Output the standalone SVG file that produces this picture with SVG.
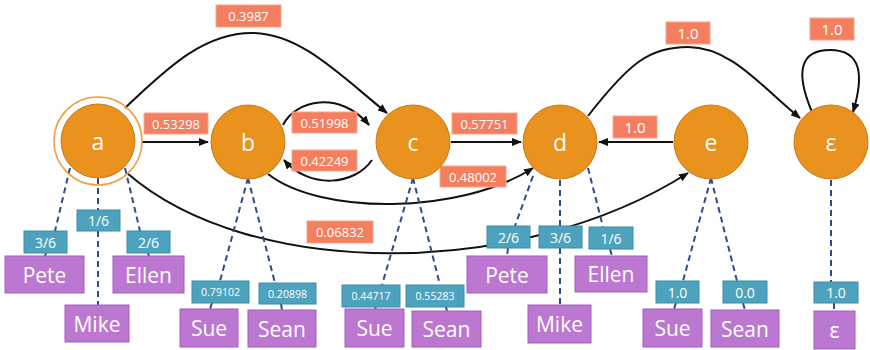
<svg xmlns="http://www.w3.org/2000/svg" width="870" height="350" viewBox="0 0 870 350">
<style>
.node{fill:#EA921E;stroke:#C9791A;stroke-width:1}
.nt{fill:#fff;font-family:"Open Sans",sans-serif;font-size:23px;text-anchor:middle;dominant-baseline:central}
.edge{fill:none;stroke:#111;stroke-width:2}
.dash{fill:none;stroke:#2F4B8C;stroke-width:2;stroke-dasharray:6 4}
.el{fill:#F47E60;stroke:#F9A58E;stroke-width:1}
.elt{fill:#fff;font-family:"Open Sans",sans-serif;font-size:13px;text-anchor:middle;dominant-baseline:central}
.tag{fill:#4DA3BE;stroke:#3A8CA6;stroke-width:1}
.tt{fill:#fff;font-family:"Open Sans",sans-serif;font-size:14px;text-anchor:middle;dominant-baseline:central}
.ts{font-size:10.5px}
.box{fill:#BC78D1;stroke:#A25EBA;stroke-width:1}
.bt{fill:#fff;font-family:"Open Sans",sans-serif;font-size:21px;text-anchor:middle;dominant-baseline:central}
</style>
<defs>
<marker id="arr" markerWidth="10" markerHeight="8" refX="9" refY="4" orient="auto" markerUnits="userSpaceOnUse">
<path d="M0,0 L10,4 L0,8 Z" fill="#111"/>
</marker>
</defs>
<g id="connectors">
<path class="edge" d="M142,142 L208,142" marker-end="url(#arr)"/>
<path class="edge" d="M125,108 C170,65 205,33 252,33 C300,33 340,75 387,113" marker-end="url(#arr)"/>
<path class="edge" d="M283,125 C295,100 340,90 369,125" marker-end="url(#arr)"/>
<path class="edge" d="M372,160 C355,185 310,190 284,160" marker-end="url(#arr)"/>
<path class="edge" d="M451,142 L521,142" marker-end="url(#arr)"/>
<path class="edge" d="M268,174 C320,215 460,215 533,168" marker-end="url(#arr)"/>
<path class="edge" d="M127,173 C250,280 520,280 688,173" marker-end="url(#arr)"/>
<path class="edge" d="M673,142 L599,142" marker-end="url(#arr)"/>
<path class="edge" d="M588,116 C630,62 650,47 688,47 C730,47 760,85 800,118" marker-end="url(#arr)"/>
<path class="edge" d="M812,112 C795,72 800,50 830,50 C862,50 864,76 853,112" marker-end="url(#arr)"/>
<path class="dash" d="M70,168 L55,231 M46,253 L45,256"/>
<path class="dash" d="M98,178 L98,210 M98,231 L98,305"/>
<path class="dash" d="M125,168 L140,231 M148,253 L149,256"/>
<path class="dash" d="M248,178 L220,281 M212,303 L210,309"/>
<path class="dash" d="M248,178 L275,283 M281,304 L282,310"/>
<path class="dash" d="M413,178 L382,285 M376,307 L375,309"/>
<path class="dash" d="M413,178 L440,285 M446,307 L447,311"/>
<path class="dash" d="M533,176 L515,226 M508,248 L507,256"/>
<path class="dash" d="M560,180 L560,226 M560,248 L560,305"/>
<path class="dash" d="M588,168 L603,227 M610,249 L612,256"/>
<path class="dash" d="M711,178 L683,281 M676,303 L674,309"/>
<path class="dash" d="M711,178 L737,281 M743,303 L745,310"/>
<path class="dash" d="M831,180 L831,282 M834,303 L834,311"/>
</g>
<g id="edge-labels">
<rect class="el" x="216" y="5" width="65" height="22"/><text class="elt" x="248.5" y="16">0.3987</text>
<rect class="el" x="144" y="113" width="64" height="21"/><text class="elt" x="176" y="123.5">0.53298</text>
<rect class="el" x="292" y="112" width="65" height="21"/><text class="elt" x="324.5" y="122.5">0.51998</text>
<rect class="el" x="292" y="150" width="65" height="21"/><text class="elt" x="324.5" y="160.5">0.42249</text>
<rect class="el" x="452" y="113" width="65" height="21"/><text class="elt" x="484.5" y="123.5">0.57751</text>
<rect class="el" x="440" y="166" width="66" height="21"/><text class="elt" x="473" y="176.5">0.48002</text>
<rect class="el" x="307" y="221" width="66" height="22"/><text class="elt" x="340" y="232">0.06832</text>
<rect class="el" x="613" y="116" width="44" height="22"/><text class="elt" x="635" y="127" style="font-size:15px">1.0</text>
<rect class="el" x="666" y="22" width="44" height="22"/><text class="elt" x="688" y="33" style="font-size:15px">1.0</text>
<rect class="el" x="810" y="18" width="44" height="22"/><text class="elt" x="832" y="29" style="font-size:15px">1.0</text>
</g>
<g id="node-a">
<circle cx="98" cy="141" r="44" fill="none" stroke="#F0A040" stroke-width="1.5"/>
<circle class="node" cx="98" cy="141" r="37"/><text class="nt" x="98" y="141">a</text>
</g>
<g id="node-b"><circle class="node" cx="248" cy="142" r="37"/><text class="nt" x="248" y="142">b</text></g>
<g id="node-c"><circle class="node" cx="413" cy="142" r="37"/><text class="nt" x="413" y="142">c</text></g>
<g id="node-d"><circle class="node" cx="560" cy="142" r="37"/><text class="nt" x="560" y="142">d</text></g>
<g id="node-e"><circle class="node" cx="711" cy="142" r="37"/><text class="nt" x="711" y="142">e</text></g>
<g id="node-eps"><circle class="node" cx="831" cy="142" r="37"/><text class="nt" x="831" y="142">ε</text></g>
<g id="emit-a">
<rect class="tag" x="24" y="231" width="43" height="22"/><text class="tt" x="45.5" y="242">3/6</text>
<rect class="tag" x="77" y="210" width="43" height="21"/><text class="tt" x="98.5" y="220.5">1/6</text>
<rect class="tag" x="127" y="231" width="43" height="22"/><text class="tt" x="148.5" y="242">2/6</text>
<rect class="box" x="5" y="256" width="79" height="37"/><text class="bt" x="44.5" y="274.5">Pete</text>
<rect class="box" x="65" y="305" width="64" height="37"/><text class="bt" x="97" y="323.5">Mike</text>
<rect class="box" x="113" y="256" width="71" height="37"/><text class="bt" x="148.5" y="274.5">Ellen</text>
</g>
<g id="emit-b">
<rect class="tag" x="192" y="281" width="57" height="22"/><text class="tt ts" x="220.5" y="292">0.79102</text>
<rect class="tag" x="259" y="283" width="57" height="21"/><text class="tt ts" x="287.5" y="293.5">0.20898</text>
<rect class="box" x="180" y="309" width="58" height="38"/><text class="bt" x="209" y="328">Sue</text>
<rect class="box" x="248" y="310" width="68" height="37"/><text class="bt" x="282" y="328.5">Sean</text>
</g>
<g id="emit-c">
<rect class="tag" x="342" y="285" width="58" height="22"/><text class="tt ts" x="371" y="296">0.44717</text>
<rect class="tag" x="406" y="285" width="58" height="22"/><text class="tt ts" x="435" y="296">0.55283</text>
<rect class="box" x="345" y="309" width="59" height="38"/><text class="bt" x="374.5" y="328">Sue</text>
<rect class="box" x="412" y="311" width="69" height="36"/><text class="bt" x="446.5" y="329">Sean</text>
</g>
<g id="emit-d">
<rect class="tag" x="487" y="226" width="43" height="22"/><text class="tt" x="508.5" y="237">2/6</text>
<rect class="tag" x="539" y="226" width="43" height="22"/><text class="tt" x="560.5" y="237">3/6</text>
<rect class="tag" x="589" y="227" width="44" height="22"/><text class="tt" x="611" y="238">1/6</text>
<rect class="box" x="467" y="256" width="80" height="37"/><text class="bt" x="507" y="274.5">Pete</text>
<rect class="box" x="528" y="305" width="63" height="38"/><text class="bt" x="559.5" y="324">Mike</text>
<rect class="box" x="575" y="256" width="72" height="36"/><text class="bt" x="611" y="274">Ellen</text>
</g>
<g id="emit-e">
<rect class="tag" x="656" y="281" width="43" height="22"/><text class="tt" x="677.5" y="292">1.0</text>
<rect class="tag" x="723" y="281" width="44" height="22"/><text class="tt" x="745" y="292">0.0</text>
<rect class="box" x="643" y="309" width="59" height="38"/><text class="bt" x="672.5" y="328">Sue</text>
<rect class="box" x="711" y="310" width="68" height="37"/><text class="bt" x="745" y="328.5">Sean</text>
</g>
<g id="emit-eps">
<rect class="tag" x="814" y="282" width="44" height="21"/><text class="tt" x="836" y="292.5">1.0</text>
<rect class="box" x="814" y="311" width="41" height="38"/><text class="bt" x="834.5" y="330">ε</text>
</g>
</svg>
